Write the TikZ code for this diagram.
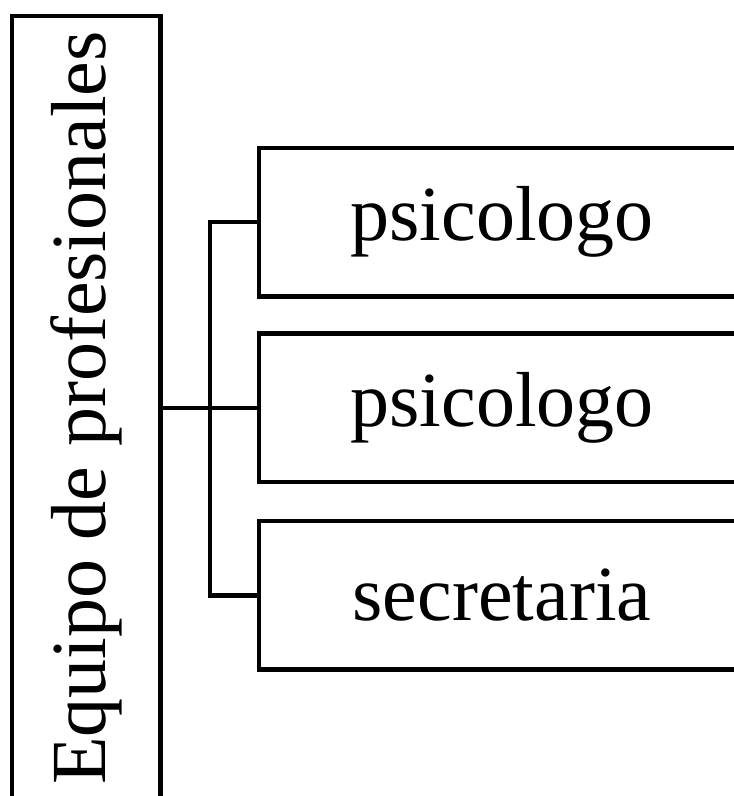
\documentclass[tikz,border=0pt]{standalone}
\usepackage{fontspec}
\setmainfont{Liberation Serif}
\begin{document}
\begin{tikzpicture}[x=1pt,y=1pt,line width=4.5pt,
		caja/.style={draw,inner sep=0pt,font=\fontsize{78}{82}\selectfont}]
		\useasboundingbox (0,0) rectangle (734,796);
		\clip (0,0) rectangle (734,796);
		\node[caja,rotate=90,minimum width=784pt,minimum height=148.5pt] (equipo) at (86.25,388) {Equipo de profesionales};
		\coordinate (J) at (210,388);
		\foreach \y/\t [count=\i] in {573.75/psicologo,388/psicologo,200.5/secretaria}{
			\node[caja,minimum width=486pt,minimum height=148.5pt] (P\i) at (502,\y) {\t};
			\draw (J) |- (P\i.west);
		}
		\draw (equipo.south) -- (J);
	\end{tikzpicture}
\end{document}
